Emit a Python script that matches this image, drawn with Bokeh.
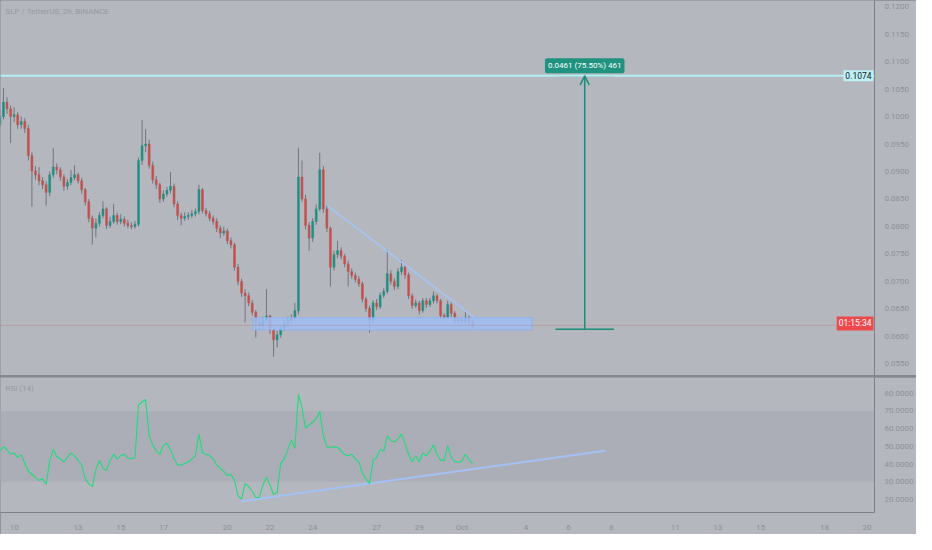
import numpy as np
import pandas as pd
from bokeh.plotting import figure
from bokeh.models import (ColumnDataSource, Range1d, FixedTicker, NumeralTickFormatter,
                          Span, BoxAnnotation, Label, Arrow, OpenHead)
from bokeh.layouts import column
from bokeh.embed import file_html
from bokeh.resources import INLINE

# ---------------- data ----------------
symbol_title = "SLP / TetherUS, 2h, BINANCE"
rsi_title = "RSI (14)"
first_time = "2021-09-09 08:00"
ref_time = "2021-09-10 00:00"
n_bars = 134
first_open = 0.0985

close = [0.1000, 0.1026, 0.1014, 0.1000, 0.1003, 0.0985, 0.0991, 0.0978, 0.0929, 0.0901,
         0.0894, 0.0883, 0.0876, 0.0862, 0.0894, 0.0908, 0.0903, 0.0890, 0.0873, 0.0880,
         0.0889, 0.0894, 0.0883, 0.0867, 0.0845, 0.0815, 0.0797, 0.0806, 0.0820, 0.0832,
         0.0802, 0.0809, 0.0820, 0.0809, 0.0813, 0.0806, 0.0802, 0.0800, 0.0804, 0.0920,
         0.0947, 0.0950, 0.0911, 0.0885, 0.0876, 0.0850, 0.0859, 0.0866, 0.0873, 0.0841,
         0.0820, 0.0815, 0.0818, 0.0820, 0.0823, 0.0827, 0.0867, 0.0829, 0.0823, 0.0815,
         0.0809, 0.0797, 0.0788, 0.0792, 0.0774, 0.0767, 0.0726, 0.0700, 0.0679, 0.0674,
         0.0661, 0.0644, 0.0626, 0.0619, 0.0630, 0.0637, 0.0612, 0.0594, 0.0603, 0.0615,
         0.0624, 0.0630, 0.0633, 0.0647, 0.0890, 0.0850, 0.0802, 0.0779, 0.0809, 0.0832,
         0.0903, 0.0832, 0.0797, 0.0726, 0.0749, 0.0756, 0.0746, 0.0732, 0.0718, 0.0711,
         0.0704, 0.0696, 0.0668, 0.0651, 0.0630, 0.0661, 0.0654, 0.0675, 0.0682, 0.0714,
         0.0700, 0.0691, 0.0718, 0.0726, 0.0712, 0.0674, 0.0656, 0.0661, 0.0647, 0.0665,
         0.0658, 0.0665, 0.0674, 0.0665, 0.0638, 0.0635, 0.0658, 0.0642, 0.0628, 0.0630,
         0.0628, 0.0635, 0.0626, 0.0620]

high = [0.1012, 0.1052, 0.1035, 0.1020, 0.1017, 0.1008, 0.1000, 0.0997, 0.0985, 0.0935,
        0.0910, 0.0908, 0.0890, 0.0882, 0.0900, 0.0943, 0.0915, 0.0908, 0.0895, 0.0886,
        0.0903, 0.0911, 0.0898, 0.0888, 0.0870, 0.0850, 0.0820, 0.0815, 0.0826, 0.0846,
        0.0835, 0.0818, 0.0841, 0.0825, 0.0822, 0.0818, 0.0812, 0.0808, 0.0810, 0.0925,
        0.0994, 0.0977, 0.0958, 0.0918, 0.0892, 0.0880, 0.0866, 0.0872, 0.0899, 0.0878,
        0.0846, 0.0825, 0.0826, 0.0826, 0.0830, 0.0833, 0.0876, 0.0870, 0.0834, 0.0828,
        0.0820, 0.0815, 0.0802, 0.0800, 0.0796, 0.0780, 0.0770, 0.0732, 0.0705, 0.0686,
        0.0680, 0.0666, 0.0648, 0.0633, 0.0636, 0.0686, 0.0640, 0.0616, 0.0610, 0.0620,
        0.0630, 0.0636, 0.0640, 0.0661, 0.0943, 0.0920, 0.0858, 0.0808, 0.0815, 0.0840,
        0.0934, 0.0910, 0.0838, 0.0800, 0.0756, 0.0774, 0.0762, 0.0750, 0.0738, 0.0724,
        0.0716, 0.0710, 0.0700, 0.0672, 0.0656, 0.0666, 0.0668, 0.0680, 0.0688, 0.0758,
        0.0720, 0.0706, 0.0724, 0.0739, 0.0730, 0.0716, 0.0678, 0.0667, 0.0665, 0.0670,
        0.0670, 0.0670, 0.0682, 0.0678, 0.0668, 0.0642, 0.0665, 0.0662, 0.0646, 0.0635,
        0.0634, 0.0644, 0.0638, 0.0629]

low = [0.0980, 0.0995, 0.1005, 0.0952, 0.0990, 0.0978, 0.0978, 0.0970, 0.0920, 0.0836,
       0.0885, 0.0875, 0.0868, 0.0838, 0.0855, 0.0888, 0.0895, 0.0883, 0.0865, 0.0867,
       0.0875, 0.0884, 0.0878, 0.0860, 0.0838, 0.0808, 0.0767, 0.0780, 0.0800, 0.0815,
       0.0795, 0.0797, 0.0805, 0.0803, 0.0804, 0.0800, 0.0797, 0.0795, 0.0796, 0.0800,
       0.0912, 0.0935, 0.0905, 0.0878, 0.0868, 0.0843, 0.0845, 0.0854, 0.0860, 0.0835,
       0.0812, 0.0802, 0.0810, 0.0812, 0.0815, 0.0818, 0.0822, 0.0824, 0.0818, 0.0810,
       0.0803, 0.0790, 0.0779, 0.0783, 0.0768, 0.0760, 0.0720, 0.0693, 0.0672, 0.0626,
       0.0655, 0.0638, 0.0598, 0.0612, 0.0614, 0.0625, 0.0605, 0.0563, 0.0580, 0.0598,
       0.0610, 0.0618, 0.0625, 0.0628, 0.0640, 0.0845, 0.0795, 0.0756, 0.0772, 0.0803,
       0.0828, 0.0825, 0.0790, 0.0691, 0.0720, 0.0742, 0.0740, 0.0726, 0.0691, 0.0705,
       0.0698, 0.0690, 0.0662, 0.0645, 0.0607, 0.0625, 0.0648, 0.0650, 0.0670, 0.0678,
       0.0694, 0.0684, 0.0686, 0.0712, 0.0705, 0.0668, 0.0650, 0.0652, 0.0640, 0.0643,
       0.0652, 0.0654, 0.0660, 0.0660, 0.0632, 0.0630, 0.0632, 0.0636, 0.0623, 0.0625,
       0.0622, 0.0624, 0.0620, 0.0614]

rsi = [47.3, 49.9, 48.2, 45.6, 46.4, 43.8, 45.2, 40.3, 36.0, 34.3,
       32.5, 30.8, 31.7, 28.5, 41.7, 48.2, 44.2, 43.0, 41.2, 43.8,
       46.4, 44.7, 42.1, 39.5, 31.7, 29.0, 27.3, 36.9, 42.1, 37.7,
       36.5, 42.1, 45.6, 43.0, 44.7, 45.6, 43.5, 43.0, 43.8, 73.4,
       75.1, 76.5, 56.0, 50.8, 47.3, 45.6, 50.8, 51.7, 48.2, 43.0,
       39.5, 39.5, 40.3, 41.2, 43.0, 44.7, 56.9, 46.4, 45.6, 44.7,
       43.0, 39.5, 37.7, 36.0, 33.4, 34.3, 30.8, 22.1, 20.3, 29.0,
       27.3, 24.7, 21.2, 21.2, 28.2, 32.5, 28.2, 23.0, 23.8, 40.3,
       43.0, 48.2, 53.4, 49.0, 79.5, 71.6, 60.3, 62.1, 63.8, 65.6,
       69.9, 56.0, 49.9, 49.4, 49.9, 49.4, 47.3, 45.6, 44.7, 45.6,
       43.0, 41.2, 35.1, 31.7, 29.0, 42.1, 43.8, 48.2, 47.3, 56.0,
       53.4, 52.5, 54.3, 56.9, 51.7, 45.6, 41.2, 44.7, 41.2, 46.4,
       44.7, 47.3, 50.8, 45.6, 42.1, 42.1, 50.4, 43.8, 41.2, 41.2,
       41.7, 45.6, 42.5, 40.3]

x_tick_dates = ["2021-09-10", "2021-09-13", "2021-09-15", "2021-09-17", "2021-09-20",
                "2021-09-22", "2021-09-24", "2021-09-27", "2021-09-29", "2021-10-01",
                "2021-10-04", "2021-10-06", "2021-10-08", "2021-10-11", "2021-10-13",
                "2021-10-15", "2021-10-18", "2021-10-20"]
x_tick_labels = ["10", "13", "15", "17", "20", "22", "24", "27", "29", "Oct",
                 "4", "6", "8", "11", "13", "15", "18", "20"]
price_ticks = [0.055, 0.060, 0.065, 0.070, 0.075, 0.080, 0.085, 0.090, 0.095,
               0.100, 0.105, 0.110, 0.115, 0.120]
rsi_ticks = [20, 30, 40, 50, 60, 70, 80]
rsi_band = [30, 70]

# drawings (time in days from ref_time, price)
target_price = 0.1074
target_text = "0.1074"
measure_text = "0.0461 (75.50%) 461"
measure_low = 0.0613
measure_x = [25.39, 26.76, 28.13]
support_zone = [11.2, 24.29, 0.0612, 0.0634]
down_trend_x = [14.68, 21.68]
down_trend_y = [0.0838, 0.0632]
rsi_trend_x = [10.66, 27.72]
rsi_trend_y = [19.0, 47.6]
countdown_text = "01:15:34"

x_view = [-0.64, 40.35]
price_view = [0.0529, 0.1211]
rsi_view = [12.7, 88.9]

# ---------------- styling ----------------
BG = "#b4b7be"
BAND = "#abaeb6"
AXC = "#7d8089"
TXT = "#8e9199"
UP = "#1f8f80"
DN = "#c0514f"
WICK = "#72757e"
TEAL = "#1d8c7b"
FONT = "Roboto"

t0 = pd.Timestamp(ref_time)
times = pd.date_range(first_time, periods=n_bars, freq="4h")
days = ((times - t0) / pd.Timedelta(days=1)).to_numpy()
opens = [first_open] + close[:-1]
inc = [c >= o for o, c in zip(opens, close)]

src = ColumnDataSource(dict(
    x=days, open=opens, close=close, high=high, low=low,
    top=[max(o, c) for o, c in zip(opens, close)],
    bottom=[min(o, c) for o, c in zip(opens, close)],
    color=[UP if u else DN for u in inc],
))
rsrc = ColumnDataSource(dict(x=days, rsi=rsi))

x_range = Range1d(*x_view)

W = 916
p1 = figure(width=W, height=375, x_range=x_range, y_range=Range1d(*price_view),
            x_axis_location=None, y_axis_location="right", toolbar_location=None,
            output_backend="svg", min_border_left=0, min_border_top=0,
            min_border_bottom=0, min_border_right=36,
            background_fill_color=BG, border_fill_color=BG, outline_line_color=None)
p1.grid.visible = False

p1.segment(x0="x", x1="x", y0="low", y1="high", source=src, line_color=WICK, line_width=1)
p1.vbar(x="x", width=0.09, top="top", bottom="bottom", source=src,
        fill_color="color", line_color="color", line_width=0.5)

# support zone
p1.add_layout(BoxAnnotation(left=support_zone[0], right=support_zone[1],
                            bottom=support_zone[2], top=support_zone[3],
                            fill_color="#9fbdf4", fill_alpha=0.85,
                            line_color="#8fb0ee", line_alpha=0.9, line_width=1))
# current price line
p1.add_layout(Span(location=close[-1], dimension="width", line_color="#c96a6a",
                   line_alpha=0.55, line_width=1, line_dash="1 1"))
# target line
p1.add_layout(Span(location=target_price, dimension="width", line_color="#b4eef4",
                   line_width=2))
# descending trend line
p1.line(down_trend_x, down_trend_y, line_color="#a6c4f6", line_width=1.6)

# measure tool
p1.segment(x0=[measure_x[0], measure_x[0]], x1=[measure_x[2], measure_x[2]],
           y0=[measure_low, target_price], y1=[measure_low, target_price],
           line_color=TEAL, line_width=1.5)
p1.add_layout(Arrow(end=OpenHead(size=9, line_color=TEAL, line_width=1.5),
                    x_start=measure_x[1], y_start=measure_low,
                    x_end=measure_x[1], y_end=target_price,
                    line_color=TEAL, line_width=1.5))
p1.add_layout(Label(x=measure_x[1], y=target_price, y_offset=10, text=measure_text,
                    text_align="center", text_baseline="middle",
                    text_color="white", text_font=FONT, text_font_size="8px",
                    background_fill_color="#1f937f", padding=3, border_radius=2))

# title
p1.add_layout(Label(x=x_view[0], y=price_view[1], x_offset=5, y_offset=-11,
                    text=symbol_title, text_color="#979aa2", text_font=FONT,
                    text_font_size="8px", text_baseline="middle"))

# price-scale tags (kept inside the frame, against the scale)
p1.add_layout(Label(x=x_view[1], y=target_price, x_offset=-1, text=target_text,
                    text_align="right", text_baseline="middle", text_color="#131722",
                    text_font=FONT, text_font_size="8.5px",
                    background_fill_color="#bdf0f5", padding=2))
p1.add_layout(Label(x=x_view[1], y=close[-1], x_offset=-1, y_offset=2, text=countdown_text,
                    text_align="right", text_baseline="middle", text_color="white",
                    text_font=FONT, text_font_size="8.5px",
                    background_fill_color="#ee4a4e", padding=2))

ya = p1.yaxis[0]
ya.ticker = FixedTicker(ticks=price_ticks)
ya.formatter = NumeralTickFormatter(format="0.0000")

# ---------------- RSI pane ----------------
p2 = figure(width=W, height=157, x_range=x_range, y_range=Range1d(*rsi_view),
            y_axis_location="right", toolbar_location=None, output_backend="svg",
            min_border_left=0, min_border_top=0, min_border_bottom=16,
            min_border_right=36,
            background_fill_color=BG, border_fill_color=BG, outline_line_color=None)
p2.grid.visible = False
p2.add_layout(BoxAnnotation(bottom=rsi_band[0], top=rsi_band[1], fill_color=BAND,
                            fill_alpha=1.0, line_color=None, level="underlay"))
p2.line(rsi_trend_x, rsi_trend_y, line_color="#a3c1f5", line_width=2)
p2.line("x", "rsi", source=rsrc, line_color="#1fdc7c", line_width=1.1)
p2.add_layout(Label(x=x_view[0], y=rsi_view[1], x_offset=5, y_offset=-11, text=rsi_title,
                    text_color="#979aa2", text_font=FONT, text_font_size="8px",
                    text_baseline="middle"))

ya2 = p2.yaxis[0]
ya2.ticker = FixedTicker(ticks=rsi_ticks)
ya2.formatter = NumeralTickFormatter(format="0.0000")

tick_days = [int(round((pd.Timestamp(d) - t0) / pd.Timedelta(days=1))) for d in x_tick_dates]
xa = p2.xaxis[0]
xa.ticker = FixedTicker(ticks=tick_days)
xa.major_label_overrides = {d: lab for d, lab in zip(tick_days, x_tick_labels)}

for ax in (ya, ya2, xa):
    ax.axis_line_color = AXC
    ax.axis_line_width = 1
    ax.major_tick_line_color = None
    ax.minor_tick_line_color = None
    ax.major_label_text_color = TXT
    ax.major_label_text_font = FONT
    ax.major_label_text_font_size = "8px"
    ax.major_label_standoff = 4

layout = column(p1, p2, spacing=2, styles={"background-color": "#858891"})

open("out.html", "w").write(file_html(layout, INLINE))
